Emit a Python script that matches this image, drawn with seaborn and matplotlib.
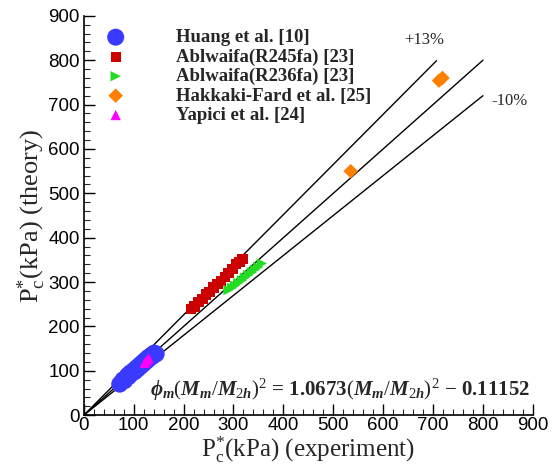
import matplotlib
matplotlib.use("Agg")
import matplotlib.pyplot as plt
import seaborn as sns
import numpy as np
import pandas as pd
from matplotlib.ticker import MultipleLocator

# ---- data ----
huang_x = [72, 76, 79, 82, 85, 88, 90, 93, 96, 99, 102, 105, 108, 111, 114, 117, 120, 123, 126, 129, 132, 135, 138, 141, 145]
huang_y = [70, 75, 80, 78, 84, 90, 87, 95, 94, 100, 98, 106, 104, 112, 110, 118, 116, 124, 122, 130, 128, 135, 133, 140, 138]
r245_x = [215, 222, 230, 238, 245, 252, 260, 268, 275, 283, 290, 298, 305, 312, 318]
r245_y = [240, 245, 255, 262, 272, 278, 288, 295, 302, 312, 320, 330, 340, 345, 352]
r236_x = [290, 297, 303, 310, 317, 323, 330, 337, 343, 350, 357]
r236_y = [282, 287, 292, 298, 304, 310, 316, 322, 328, 334, 342]
hakkaki_x = [535, 712, 719]
hakkaki_y = [550, 754, 760]
yapici_x = [122, 126, 130]
yapici_y = [118, 123, 128]

labels = ["Huang et al. [10]", "Ablwaifa(R245fa) [23]", "Ablwaifa(R236fa) [23]",
          "Hakkaki-Fard et al. [25]", "Yapici et al. [24]"]

ref_x_end = [707, 800, 800]
ref_factor = [1.13, 1.0, 0.9]

ticks = [0, 100, 200, 300, 400, 500, 600, 700, 800, 900]

# ---- style ----
sns.set_style("ticks")
plt.rcParams['font.family'] = ['Liberation Sans', 'DejaVu Sans']
plt.rcParams['mathtext.fontset'] = 'custom'
plt.rcParams['mathtext.rm'] = 'Liberation Serif'
plt.rcParams['mathtext.it'] = 'Liberation Serif:italic:bold'
plt.rcParams['mathtext.bf'] = 'Liberation Serif:bold'

fig = plt.figure(figsize=(5.55, 4.66), dpi=100)
ax = fig.add_axes([0.151, 0.109, 0.809, 0.857])

# reference lines
for xe, f in zip(ref_x_end, ref_factor):
    xs = np.array([0, xe])
    ax.plot(xs, f * xs, color='black', lw=1.0, zorder=1)

series = [
    (huang_x, huang_y, labels[0], 'o', '#3a3aff', 150),
    (r245_x, r245_y, labels[1], 's', '#cc0000', 55),
    (r236_x, r236_y, labels[2], '>', '#22dd22', 55),
    (hakkaki_x, hakkaki_y, labels[3], 'D', '#ff8000', 55),
    (yapici_x, yapici_y, labels[4], '^', '#ff00ff', 55),
]
for xs, ys, lab, m, c, s in series:
    df = pd.DataFrame({'x': xs, 'y': ys})
    sns.scatterplot(data=df, x='x', y='y', ax=ax, marker=m, color=c, s=s,
                    edgecolor='none', label=lab, zorder=2)

ax.set_xlim(0, 900)
ax.set_ylim(0, 900)
ax.set_xticks(ticks)
ax.set_yticks(ticks)
ax.xaxis.set_minor_locator(MultipleLocator(20))
ax.yaxis.set_minor_locator(MultipleLocator(20))
ax.tick_params(which='major', direction='in', length=8, width=1, labelsize=13.5, colors='black')
ax.tick_params(which='minor', direction='in', length=4, width=0.8)
ax.tick_params(axis='x', pad=1)
ax.tick_params(axis='y', pad=3)
sns.despine(ax=ax)
for sp in ['left', 'bottom']:
    ax.spines[sp].set_linewidth(1.2)
    ax.spines[sp].set_color('black')

ax.set_xlabel(r"P$_\mathrm{c}^{*}$(kPa) (experiment)", family='Liberation Serif', fontsize=18, labelpad=1)
ax.set_ylabel(r"P$_\mathrm{c}^{*}$(kPa) (theory)", family='Liberation Serif', fontsize=19, labelpad=0)

leg = ax.legend(loc='upper left', bbox_to_anchor=(0.0, 1.0), frameon=False,
                prop={'family': 'Liberation Serif', 'weight': 'bold', 'size': 13.5},
                handletextpad=2.2, labelspacing=0.12, borderaxespad=0.3, markerscale=1.0)

ax.text(683, 846, "+13%", family='Liberation Serif', fontsize=12, ha='center', va='center')
ax.text(853, 707, "-10%", family='Liberation Serif', fontsize=12, ha='center', va='center')

eq = r"$\phi_m(M_m/M_{2h})^2$ = 1.0673$(M_m/M_{2h})^2$ $-$ 0.11152"
ax.text(133, 58, eq, family='Liberation Serif', fontweight='bold', fontsize=15,
        ha='left', va='center')

fig.savefig("out.png", dpi=100)
